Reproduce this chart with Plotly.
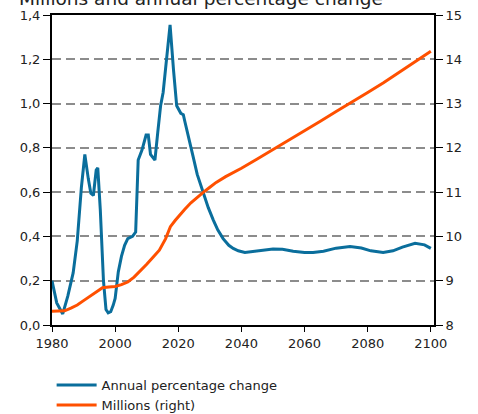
import plotly.graph_objects as go

# Annual percentage change (left axis)
pct_years = [1980, 1981.5, 1983.4, 1985, 1986.7, 1988, 1989.3, 1990.4, 1991.5, 1992.3,
             1993.1, 1994, 1994.5, 1995.3, 1996.3, 1997.1, 1997.8, 1998.6, 1999.4, 2000,
             2001, 2002, 2003, 2004, 2005.5, 2006.5, 2007.3, 2008.5, 2009.8, 2010.5,
             2011.2, 2012.6, 2013.5, 2014.4, 2015.2, 2016.3, 2017.4, 2018.5, 2019.5, 2020.8,
             2021.6, 2022.1, 2023.5, 2024.7, 2026, 2027.9, 2029.5, 2031.1, 2032.5, 2034.2,
             2036, 2037.4, 2039, 2041.1, 2043.5, 2045.9, 2050, 2053, 2056.4, 2060,
             2062.7, 2066, 2070, 2074.4, 2078, 2081, 2084.9, 2088, 2091, 2095,
             2098, 2100]
pct_change = [0.20, 0.10, 0.05, 0.13, 0.235, 0.38, 0.62, 0.77, 0.66, 0.595,
              0.585, 0.70, 0.71, 0.52, 0.20, 0.07, 0.055, 0.06, 0.09, 0.12,
              0.24, 0.31, 0.36, 0.39, 0.40, 0.42, 0.745, 0.79, 0.858, 0.858,
              0.77, 0.745, 0.87, 0.99, 1.05, 1.22, 1.355, 1.15, 0.99, 0.956,
              0.95, 0.918, 0.84, 0.76, 0.68, 0.595, 0.53, 0.474, 0.43, 0.39,
              0.36, 0.346, 0.335, 0.328, 0.332, 0.339, 0.343, 0.342, 0.333, 0.327,
              0.327, 0.333, 0.347, 0.354, 0.348, 0.335, 0.327, 0.335, 0.352, 0.369,
              0.362, 0.346]

# Population in millions (right axis)
pop_years = [1980, 1982, 1984, 1986, 1988, 1990, 1992, 1994, 1996, 1998,
             2000, 2002, 2004, 2006, 2008, 2010, 2012, 2014, 2016, 2017.5,
             2019, 2020.5, 2022, 2024, 2026, 2028, 2030, 2032, 2035, 2040,
             2045, 2050, 2055, 2060, 2065, 2070, 2075, 2080, 2085, 2090,
             2095, 2100]
pop_millions = [8.31, 8.31, 8.32, 8.38, 8.45, 8.55, 8.65, 8.76, 8.84, 8.86,
                8.87, 8.91, 8.97, 9.08, 9.22, 9.37, 9.53, 9.69, 9.95, 10.22,
                10.36, 10.49, 10.61, 10.76, 10.89, 11.0, 11.11, 11.22, 11.35, 11.54,
                11.75, 11.96, 12.17, 12.38, 12.60, 12.82, 13.03, 13.25, 13.47, 13.70,
                13.93, 14.18]

x_ticks = [1980, 2000, 2020, 2040, 2060, 2080, 2100]

BLUE = "#0A6E9C"
ORANGE = "#FF5000"
FONT = "DejaVu Sans"
TXT = "#222222"

fig = go.Figure()
fig.add_trace(go.Scatter(x=pct_years, y=pct_change, mode="lines",
                         name="Annual percentage change",
                         line=dict(color=BLUE, width=3)))
fig.add_trace(go.Scatter(x=pop_years, y=pop_millions, mode="lines",
                         name="Millions (right)", yaxis="y2",
                         line=dict(color=ORANGE, width=3)))

fig.update_layout(
    width=478, height=414,
    margin=dict(l=52, r=44, t=15, b=89, autoexpand=False),
    paper_bgcolor="white", plot_bgcolor="white",
    separators=", ",
    font=dict(family=FONT, size=13, color=TXT),
    showlegend=True,
    legend=dict(orientation="v", xref="container", yref="container",
                x=0.108, xanchor="left", y=0.106, yanchor="top",
                font=dict(family=FONT, size=13, color=TXT),
                bgcolor="rgba(0,0,0,0)", itemwidth=40),
    xaxis=dict(range=[1980, 2101], tickvals=x_ticks, ticks="outside", ticklen=5,
               tickcolor="black", showgrid=False, zeroline=False,
               showline=True, linecolor="black", linewidth=2, mirror=True,
               tickfont=dict(size=13, color=TXT)),
    yaxis=dict(range=[0, 1.4], dtick=0.2, tickformat=".1f", ticks="outside", ticklen=7,
               tickcolor="black", showgrid=True, gridcolor="#8c8c8c", gridwidth=1.5,
               griddash="9px,5px", zeroline=False, showline=True, linecolor="black",
               linewidth=2, tickfont=dict(size=13, color=TXT)),
    yaxis2=dict(range=[8, 15], dtick=1, overlaying="y", side="right", ticks="outside",
                ticklen=7, tickcolor="black", showgrid=False, zeroline=False,
                showline=True, linecolor="black", linewidth=2,
                tickfont=dict(size=13, color=TXT)),
    annotations=[dict(text="Millions and annual percentage change", xref="paper",
                      yref="paper", x=-0.092, y=1, xanchor="left", yanchor="bottom",
                      showarrow=False, yshift=4,
                      font=dict(family=FONT, size=18.5, color=TXT))],
)

fig.write_html("out.html")
